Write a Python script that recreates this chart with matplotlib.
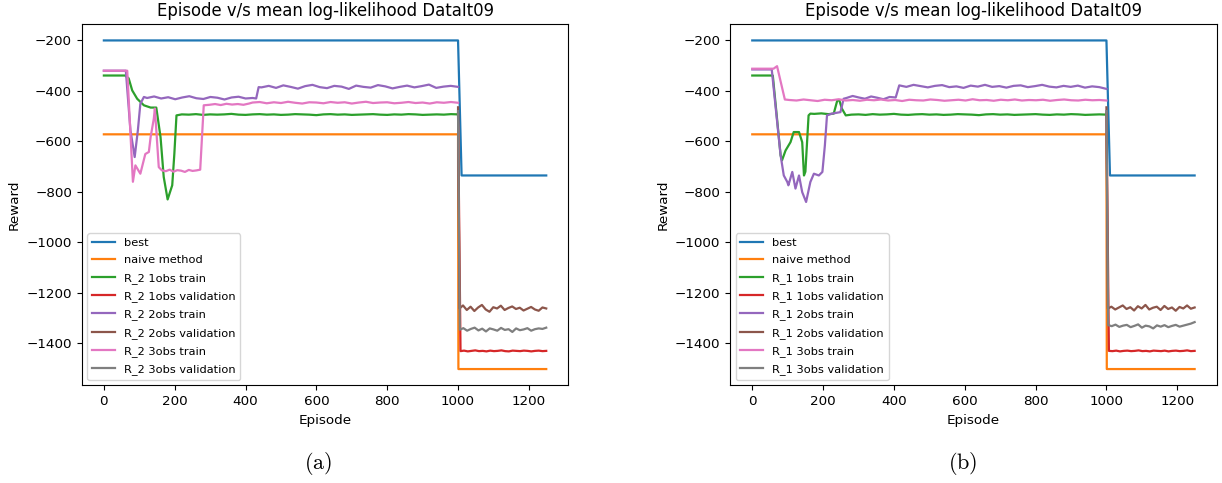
import numpy as np
import matplotlib
matplotlib.use("Agg")
import matplotlib.pyplot as plt

plt.rcParams['mathtext.fontset'] = 'cm'

# ---------------- datos: panel (a) ----------------
best_x = [0, 1000, 1010, 1249]
best_y = [-200, -200, -735, -735]
naive_x = [0, 1000, 1001, 1249]
naive_y = [-572, -572, -1502, -1502]

# R_2 1obs train
a_g_head_x = [0, 60, 70, 80, 94, 113, 132, 148, 160, 169, 180, 193, 199, 205]
a_g_head_y = [-339, -339, -350, -398, -431, -457, -466, -466, -583, -741, -830, -774, -649, -497]
a_g_flat = [-493, -494, -492, -495, -493, -494, -493, -491, -494, -495, -493, -492, -494, -493,
            -495, -494, -492, -493, -494, -496, -493, -492, -494, -493, -495, -494, -493, -492,
            -494, -495, -493, -494, -492, -493, -495, -494, -493, -494, -492, -493]

# R_2 2obs train
a_p_head_x = [0, 62, 75, 87, 96, 103, 113]
a_p_head_y = [-320, -320, -556, -662, -556, -451, -424]
a_p_flat1 = [-428, -422, -430, -425, -433, -426, -421, -429, -432, -424, -427, -434, -426, -423, -430, -428]
a_p_flat2 = [-386, -380, -388, -378, -384, -391, -381, -376, -385, -389, -380, -383, -392, -379,
             -384, -387, -377, -382, -390, -384, -379, -386, -381, -375, -388, -383, -380, -384]

# R_2 3obs train
a_k_head_x = [0, 66, 82, 89, 103, 117, 127, 132, 141, 144, 155, 164]
a_k_head_y = [-320, -320, -760, -695, -728, -650, -642, -583, -510, -470, -702, -715]
a_k_low = [-718, -712, -720, -714, -716, -721, -713, -717, -715, -712]
a_k_mid = [-457, -455, -452, -456, -451, -454, -452, -455, -450]
a_k_flat = [-446, -444, -449, -445, -448, -443, -447, -450, -445, -446, -449, -444, -447, -445,
            -450, -446, -443, -448, -446, -445, -449, -447, -444, -448, -446, -450, -445, -447,
            -444, -447]

# validaciones (a)
a_red = [-1431, -1429, -1432, -1430, -1428, -1431, -1430, -1432, -1429, -1431, -1430, -1428,
         -1431, -1432, -1429, -1430, -1431, -1429, -1430, -1432, -1430, -1429, -1431, -1430]
a_brown = [-1262, -1250, -1268, -1255, -1272, -1258, -1248, -1266, -1275, -1257, -1262, -1251,
           -1268, -1260, -1254, -1264, -1259, -1270, -1263, -1256, -1266, -1271, -1258, -1262]
a_gray = [-1346, -1340, -1350, -1343, -1338, -1349, -1342, -1353, -1341, -1345, -1350, -1339,
          -1347, -1344, -1355, -1341, -1348, -1345, -1340, -1350, -1344, -1341, -1343, -1338]

# ---------------- datos: panel (b) ----------------
b_g_head_x = [0, 58, 80, 84, 94, 108, 117, 132, 141, 146, 150, 159, 164, 175, 195, 215, 230, 240, 246, 253, 264]
b_g_head_y = [-339, -339, -655, -675, -636, -603, -563, -563, -603, -735, -720, -497, -490,
              -491, -489, -492, -490, -438, -438, -470, -497]
b_g_flat = [-494, -493, -495, -492, -494, -493, -491, -494, -495, -493, -492, -494, -493, -495,
            -494, -492, -493, -494, -496, -493, -492, -494, -493, -495, -494, -493, -492, -494,
            -495, -493, -494, -492, -493, -495, -494, -493, -494]

b_p_head_x = [0, 55, 80, 89, 99, 102, 113, 122, 132, 141, 152, 164, 174, 188, 198, 205, 211, 225, 249, 258]
b_p_head_y = [-315, -315, -655, -735, -761, -774, -721, -787, -735, -801, -840, -761, -728, -735,
              -721, -616, -497, -490, -484, -431]
b_p_flat1 = [-428, -420, -426, -431, -422, -427, -433, -424, -426]
b_p_flat2 = [-378, -384, -376, -381, -386, -380, -377, -385, -382, -388, -379, -383, -376, -384,
             -381, -387, -380, -378, -385, -381, -376, -383, -386, -380, -384, -379, -387, -382,
             -385, -392]

b_k_head_x = [0, 60, 70, 92]
b_k_head_y = [-312, -312, -302, -434]
b_k_flat = [-436, -438, -434, -437, -440, -435, -437, -433, -438, -436, -439, -435, -437, -434,
            -438, -436, -440, -435, -437, -438, -434, -436, -439, -437, -435, -438, -433, -437,
            -436, -439, -435, -437, -434, -438, -436, -437, -435, -439, -436, -434, -437, -438,
            -435, -437, -436, -438]

b_red = [-1430, -1431, -1429, -1432, -1430, -1429, -1431, -1430, -1428, -1431, -1430, -1432,
         -1429, -1430, -1431, -1429, -1432, -1430, -1429, -1431, -1430, -1428, -1431, -1430]
b_brown = [-1262, -1255, -1266, -1258, -1250, -1264, -1257, -1270, -1253, -1262, -1248, -1266,
           -1259, -1255, -1268, -1252, -1264, -1258, -1271, -1256, -1262, -1250, -1263, -1258]
b_gray = [-1328, -1332, -1326, -1335, -1330, -1327, -1336, -1331, -1325, -1338, -1330, -1333,
          -1341, -1329, -1334, -1328, -1336, -1331, -1327, -1334, -1330, -1326, -1322, -1316]

val_start_y = {'red': -490, 'brown': -465, 'gray': -480}


def grid(start, end, vals):
    return np.linspace(start, end, len(vals))


def val_series(start_y, vals, x_drop):
    x = np.concatenate([[1000, x_drop], grid(x_drop + 10, 1249, vals[1:])])
    return x, np.array([start_y] + list(vals))


def panel(ax, tag, train):
    (gx, gy), (px, py), (kx, ky), red, brown, gray = train
    lw = 1.6
    ax.plot(best_x, best_y, color='C0', lw=lw, label='best')
    ax.plot(naive_x, naive_y, color='C1', lw=lw, label='naive method')
    ax.plot(gx, gy, color='C2', lw=lw, label=f'{tag} 1obs train')
    ax.plot(*val_series(val_start_y['red'], red, 1007), color='C3', lw=lw, label=f'{tag} 1obs validation')
    ax.plot(px, py, color='C4', lw=lw, label=f'{tag} 2obs train')
    ax.plot(*val_series(val_start_y['brown'], brown, 1004), color='C5', lw=lw, label=f'{tag} 2obs validation')
    ax.plot(kx, ky, color='C6', lw=lw, label=f'{tag} 3obs train')
    ax.plot(*val_series(val_start_y['gray'], gray, 1005), color='C7', lw=lw, label=f'{tag} 3obs validation')
    ax.set_title('Episode v/s mean log-likelihood DataIt09', fontsize=11.9)
    ax.set_xlabel('Episode', fontsize=9.7)
    ax.set_ylabel('Reward', fontsize=9.7)
    ax.tick_params(labelsize=9.7)
    ax.set_xticks([0, 200, 400, 600, 800, 1000, 1200])
    ax.set_yticks([-200, -400, -600, -800, -1000, -1200, -1400])
    ax.legend(loc='lower left', fontsize=8.2, labelspacing=0.65)


# series (a)
ag_x = np.concatenate([a_g_head_x, grid(220, 1000, a_g_flat)])
ag_y = np.concatenate([a_g_head_y, a_g_flat])
ap_x = np.concatenate([a_p_head_x, grid(122, 420, a_p_flat1), [430, 437], grid(445, 1000, a_p_flat2)])
ap_y = np.concatenate([a_p_head_y, a_p_flat1, [-430, -385], a_p_flat2])
ak_x = np.concatenate([a_k_head_x, grid(175, 272, a_k_low), grid(282, 410, a_k_mid), grid(420, 1000, a_k_flat)])
ak_y = np.concatenate([a_k_head_y, a_k_low, a_k_mid, a_k_flat])

# series (b)
bg_x = np.concatenate([b_g_head_x, grid(280, 1000, b_g_flat)])
bg_y = np.concatenate([b_g_head_y, b_g_flat])
bp_x = np.concatenate([b_p_head_x, grid(266, 405, b_p_flat1), grid(415, 1000, b_p_flat2)])
bp_y = np.concatenate([b_p_head_y, b_p_flat1, b_p_flat2])
bk_x = np.concatenate([b_k_head_x, grid(105, 1000, b_k_flat)])
bk_y = np.concatenate([b_k_head_y, b_k_flat])

fig = plt.figure(figsize=(12.22, 4.83), dpi=100)
ax1 = fig.add_axes([0.0669, 0.2019, 0.3982, 0.7484])
ax2 = fig.add_axes([0.5975, 0.2019, 0.3982, 0.7484])

panel(ax1, 'R_2', [(ag_x, ag_y), (ap_x, ap_y), (ak_x, ak_y), a_red, a_brown, a_gray])
panel(ax2, 'R_1', [(bg_x, bg_y), (bp_x, bp_y), (bk_x, bk_y), b_red, b_brown, b_gray])

fig.text(0.260, 0.04, r'$\mathrm{(a)}$', ha='center', va='center', fontsize=16)
fig.text(0.788, 0.04, r'$\mathrm{(b)}$', ha='center', va='center', fontsize=16)

fig.savefig('out.png', dpi=100)
